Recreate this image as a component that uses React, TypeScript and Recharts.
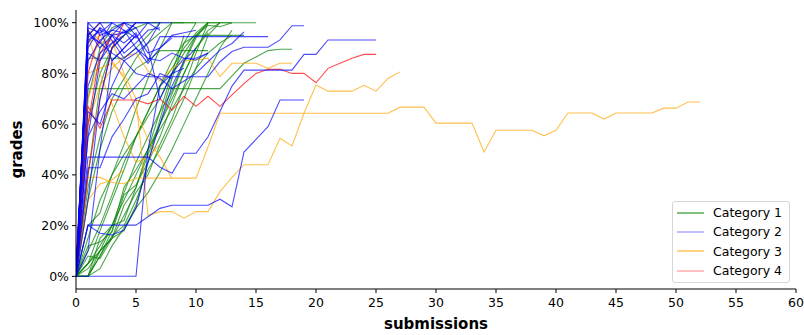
import { LineChart, Line, XAxis, YAxis, Label } from 'recharts'

const FONT = '"DejaVu Sans", sans-serif'

const xTicks = [0, 5, 10, 15, 20, 25, 30, 35, 40, 45, 50, 55, 60]
const yTicks = [0, 20, 40, 60, 80, 100]

const categoryNames = ['Category 1', 'Category 2', 'Category 3', 'Category 4']
const lineColors = ['#008000', '#0000ff', '#ffa500', '#ff0000']
const legendColors = ['#008000', '#8080ff', '#ffa500', '#ff8080']

// grade (%) per submission, index = submission number
const category1Grades = [
  [0, 5, 18, 30, 42, 55, 63, 70, 80, 88, 95, 99, 98.4, 100, 100, 100],
  [0, 74, 74, 74, 74, 74, 74, 74, 74, 74, 74, 74, 74, 79, 84, 86.5, 89, 89.5, 89.5],
  [0, 15, 30, 40, 48, 55, 65, 75, 85, 92, 95, 95, 95, 95, 95],
  [0, 10, 20, 32, 45, 55, 65, 75, 82, 90, 96, 100],
  [0, 60, 80, 90, 95, 98, 100, 100, 100, 100],
  [0, 0, 10, 20, 33, 45, 55, 65, 73, 85, 95, 100, 100],
  [0, 5, 12, 20, 30, 40, 50, 60, 70, 80, 90, 97, 100, 100],
  [0, 0, 8, 18, 35, 42, 50, 58, 66, 74, 82, 88, 92, 95],
  [0, 30, 50, 65, 75, 82, 85, 89, 89, 89, 89, 89],
  [0, 86, 86, 86, 86, 90, 95, 100],
  [0, 95, 100, 100],
  [0, 70, 90, 98, 100, 100],
  [0, 40, 75, 90, 95, 100, 100, 100],
  [0, 0, 3, 12, 19, 27, 33, 41, 50, 60, 70, 80, 90, 97],
  [0, 0, 8, 16, 20, 30, 42, 50, 60, 70, 82, 95, 100],
  [0, 12, 13.5, 17.5, 32, 36, 45, 55, 68, 80, 90, 96],
  [0, 3, 10, 15, 24, 33, 40, 52, 62, 75, 88, 100, 100, 100],
  [0, 35, 55, 70, 78, 86, 92, 96, 100, 100, 100, 100],
  [0, 8, 7, 15, 28, 35, 48, 60, 72, 84, 94, 100],
  [0, 20, 25, 40, 52, 66, 78, 90, 100, 100, 100],
  [0, 5, 10, 15, 18, 28, 45, 62, 78, 92, 100],
  [0, 0, 15, 20, 22, 35, 50, 65, 80, 95],
]

const category2Grades = [
  [0, 95, 92, 88, 85, 80, 78.7, 78.7, 78.7, 78.7, 78.7, 78.7, 84.6, 88.6, 90.3, 90.3, 90.3, 93.2, 98.8, 98.8],
  [0, 47, 47, 47, 47, 47, 47, 43, 40.6, 48.5, 48.5, 55, 65, 75, 81.3, 81.3, 81.3, 81.3, 81.3, 87.5, 87.5, 93.2, 93.2, 93.2, 93.2, 93.2],
  [0, 20.2, 20.2, 20.2, 20.2, 20.2, 23.5, 26.8, 28, 28, 28, 28, 30.4, 27.4, 49, 54, 59, 69.5, 69.5, 69.5],
  [0, 90, 98, 95, 92, 96, 85, 94.5, 94.5, 94.5, 94.5, 94.5, 94.5, 94.5, 94.5, 94.5, 94.5],
  [0, 55, 65, 72, 70, 75, 80, 78, 74, 77, 80, 84.6, 89.2, 91.8, 96.4],
  [0, 100, 100, 100, 100, 100, 100],
  [0, 97, 90, 95, 88, 92, 97, 98],
  [0, 92, 98, 85, 90, 95, 88, 90, 94],
  [0, 88, 85, 92, 97, 90, 86, 85, 88, 86, 85.3, 88],
  [0, 95, 100, 93, 86, 90, 84, 90, 95, 96, 97],
  [0, 98, 96, 100],
  [0, 85, 93, 97, 100, 95],
  [0, 75, 88, 92, 95, 100, 100, 97],
  [0, 20.2, 17, 16.3, 18.2, 26.8, 45, 60, 75, 85, 90],
  [0, 42.8, 42.8, 55, 62, 70, 72, 80, 78],
  [0, 0, 0, 0, 0, 0, 50, 75, 80, 82],
  [0, 30, 70, 90, 95],
  [0, 10, 50, 85, 90, 95],
  [0, 55, 85, 95, 100, 98],
  [0, 96, 92, 100, 97, 94, 100, 100, 100],
  [0, 100, 95, 97, 96, 100],
  [0, 65, 60, 75, 85, 88, 92, 100],
  [0, 93, 97, 95, 96, 98, 90, 70, 80, 86, 86, 88],
]

const category3Grades = [
  [0, 39, 39, 37, 36.5, 38.7, 38.7, 38.7, 38.7, 38.7, 38.7, 51, 64.3, 64.3, 64.3, 64.3, 64.3, 64.3, 64.3, 64.3,
    64.3, 64.3, 64.3, 64.3, 64.3, 64.3, 64.3, 66.7, 66.7, 66.7, 60.4, 60.4, 60.4, 60.4, 49, 57.6, 57.6, 57.6,
    57.6, 55.4, 57.6, 64.4, 64.4, 64.4, 62, 64.4, 64.4, 64.4, 64.4, 66.3, 66.3, 68.7, 68.7],
  [0, 85, 92, 93, 80, 70, 24, 25.5, 25.5, 22.9, 25.5, 25.5, 33.4, 39, 44, 44, 44, 54.4, 51.4, 64.3, 75.4, 73, 73, 73, 75.3, 73, 78, 80.6],
  [0, 60, 75, 82, 86.6, 88, 81, 77, 82, 85, 85.3, 86, 78.7, 84, 84, 84, 82, 84, 84],
  [0, 97, 93, 85, 78, 65, 54, 47, 38.6],
  [0, 95, 80, 68, 55, 45, 47, 52],
  [0, 92, 95, 90],
  [0, 70, 85, 96, 94],
  [0, 80, 82, 84, 79],
  [0, 30, 36.4, 38, 42],
]

const category4Grades = [
  [5, 67, 58.4, 69.5, 69.5, 69.5, 68, 70, 65.5, 71, 67, 71, 67, 71.5, 76, 80, 81.6, 81.6, 80, 80, 76.3, 82, 84, 86, 87.5, 87.5],
  [0, 95, 100],
  [0, 60, 88, 95],
  [8, 80, 96],
  [0, 40, 70, 90, 100],
]

const groups = [category1Grades, category2Grades, category3Grades, category4Grades]
const drawOrder = [0, 2, 3, 1]

const series = drawOrder.flatMap((c) =>
  groups[c].map((ys, k) => ({
    key: `c${c}-${k}`,
    color: lineColors[c],
    data: ys.map((y, i) => ({ x: i, y })),
  }))
)

function ChartLegend() {
  return (
    <div
      style={{
        position: 'absolute',
        left: 672,
        top: 201,
        width: 118,
        height: 82,
        boxSizing: 'border-box',
        border: '1px solid #d6d6d6',
        borderRadius: 3,
        background: 'rgba(255,255,255,0.8)',
        padding: '1px 0 0 4px',
        fontFamily: FONT,
        fontSize: 12.5,
        color: '#000',
      }}
    >
      {categoryNames.map((name, i) => (
        <div key={name} style={{ display: 'flex', alignItems: 'center', height: 19.3 }}>
          <svg width={27} height={4} style={{ marginRight: 9 }}>
            <line x1={0} y1={2} x2={27} y2={2} stroke={legendColors[i]} strokeWidth={1} />
          </svg>
          <span>{name}</span>
        </div>
      ))}
    </div>
  )
}

export default function App() {
  return (
    <div style={{ position: 'absolute', left: 0, top: 0, width: 804, height: 335, background: '#fff' }}>
      <LineChart width={804} height={335} margin={{ top: 10, right: 8, bottom: 0, left: 16 }}>
        <XAxis
          dataKey="x"
          type="number"
          domain={[0, 60]}
          ticks={xTicks}
          interval={0}
          allowDataOverflow
          height={46}
          tickSize={4}
          tickMargin={5}
          axisLine={{ stroke: '#000' }}
          tickLine={{ stroke: '#000' }}
          tick={{ fontSize: 12.5, fill: '#000', fontFamily: FONT }}
        >
          <Label
            content={(props: any) => {
              const vb = props.viewBox
              return (
                <text
                  x={vb.x + vb.width / 2}
                  y={vb.y + 39.5}
                  textAnchor="middle"
                  fontSize={15}
                  fontWeight="bold"
                  fontFamily={FONT}
                  fill="#000"
                >
                  submissions
                </text>
              )
            }}
          />
        </XAxis>
        <XAxis
          xAxisId="top"
          orientation="top"
          type="number"
          domain={[0, 60]}
          height={0}
          tick={false}
          tickLine={false}
          axisLine={{ stroke: '#000' }}
        />
        <YAxis
          type="number"
          domain={[-5, 105]}
          ticks={yTicks}
          interval={0}
          allowDataOverflow
          width={60}
          tickSize={4}
          tickMargin={3}
          tickFormatter={(v) => `${v}%`}
          axisLine={{ stroke: '#000' }}
          tickLine={{ stroke: '#000' }}
          tick={{ fontSize: 12.5, fill: '#000', fontFamily: FONT }}
        >
          <Label
            content={(props: any) => {
              const vb = props.viewBox
              const cx = vb.x + 5.5
              const cy = vb.y + vb.height / 2
              return (
                <text
                  x={cx}
                  y={cy}
                  transform={`rotate(-90 ${cx} ${cy})`}
                  textAnchor="middle"
                  fontSize={15}
                  fontWeight="bold"
                  fontFamily={FONT}
                  fill="#000"
                >
                  grades
                </text>
              )
            }}
          />
        </YAxis>
        <YAxis
          yAxisId="right"
          orientation="right"
          type="number"
          domain={[0, 1]}
          width={0}
          tick={false}
          tickLine={false}
          axisLine={{ stroke: '#000' }}
        />
        {series.map((s) => (
          <Line
            key={s.key}
            data={s.data}
            dataKey="y"
            type="linear"
            stroke={s.color}
            strokeOpacity={0.7}
            strokeWidth={1.1}
            dot={false}
            activeDot={false}
            isAnimationActive={false}
            legendType="none"
          />
        ))}
      </LineChart>
      <ChartLegend />
    </div>
  )
}
